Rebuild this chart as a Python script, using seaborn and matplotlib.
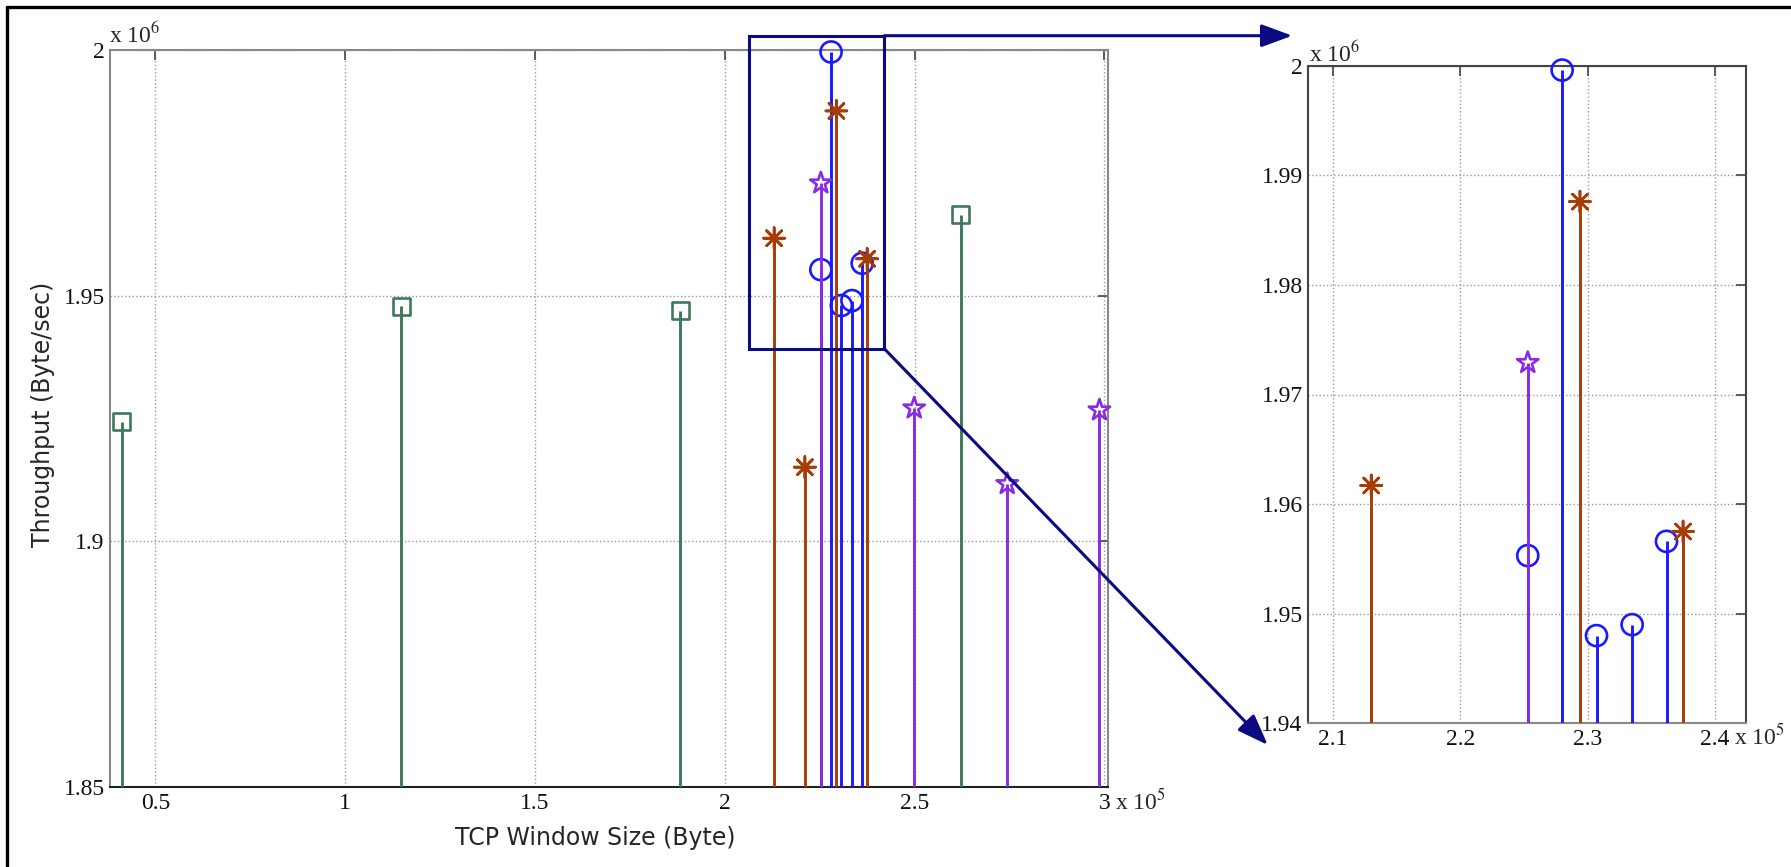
import matplotlib
matplotlib.use('Agg')
import matplotlib.pyplot as plt
from matplotlib.patches import Rectangle, FancyArrowPatch
from matplotlib.lines import Line2D
import seaborn as sns

W, H = 1791, 867

# TCP window size (Byte) and throughput (Byte/sec) per series
sq_x = [41100, 114800, 188300, 262200]
sq_y = [1924300, 1947800, 1946900, 1966500]

ci_x = [225300, 228000, 230700, 233500, 236200]
ci_y = [1955300, 1999600, 1948000, 1949000, 1956600]

ast_x = [213000, 221100, 229400, 237500]
ast_y = [1961700, 1915100, 1987600, 1957500]

st_x = [225300, 249900, 274400, 298700]
st_y = [1972900, 1927100, 1911700, 1926700]

main_xticks = [50000, 100000, 150000, 200000, 250000, 300000]
main_xlabels = ['0.5', '1', '1.5', '2', '2.5', '3']
main_yticks = [1850000, 1900000, 1950000, 2000000]
main_ylabels = ['1.85', '1.9', '1.95', '2']

zoom_xticks = [210000, 220000, 230000, 240000]
zoom_xlabels = ['2.1', '2.2', '2.3', '2.4']
zoom_yticks = [1940000, 1950000, 1960000, 1970000, 1980000, 1990000, 2000000]
zoom_ylabels = ['1.94', '1.95', '1.96', '1.97', '1.98', '1.99', '2']

GREEN = '#3b7a5a'
BLUE = '#1a1aff'
BROWN = '#a83c06'
PURPLE = '#8a2be2'
NAVY = '#0a0a82'

series = [
    (sq_x, sq_y, GREEN, 's', 150),
    (ci_x, ci_y, BLUE, 'o', 230),
    (ast_x, ast_y, BROWN, (8, 2, 0), 230),
    (st_x, st_y, PURPLE, '*', 260),
]

sns.set_style('white')
plt.rcParams['font.family'] = ['Liberation Serif', 'DejaVu Serif']
plt.rcParams['mathtext.fontset'] = 'stix'


def fx(px):
    return px / W


def fy(py):
    return 1 - py / H


def draw_stems(ax, xlim, ylim):
    for i, (xs, ys, color, marker, size) in enumerate(series):
        keep = [k for k in range(len(xs))
                if xlim[0] <= xs[k] <= xlim[1] and ys[k] >= ylim[0]]
        xs = [xs[k] for k in keep]
        ys = [ys[k] for k in keep]
        if not xs:
            continue
        ax.vlines(xs, 0, ys, colors=color, linewidth=2.1, zorder=3 + i)
        sns.scatterplot(x=xs, y=ys, ax=ax, marker=marker, s=size, color=color,
                        zorder=3.5 + i, clip_on=False, legend=False)
        coll = ax.collections[-1]
        coll.set_facecolor('none')
        coll.set_edgecolor(color)
        coll.set_linewidth(1.9)
    ax.set_xlim(*xlim)
    ax.set_ylim(*ylim)


def style_axes(ax, xticks, xlabels, yticks, ylabels, side_color, bottom_color):
    ax.set_xticks(xticks)
    ax.set_xticklabels(xlabels)
    ax.set_yticks(yticks)
    ax.set_yticklabels(ylabels)
    ax.grid(True, linestyle=':', color='#9a9a9a', linewidth=1.0)
    ax.set_axisbelow(True)
    ax.tick_params(direction='in', length=7, width=1.2, top=True, right=True,
                   labelsize=17, pad=4, color='#444444', labelcolor='#111111')
    for name in ['left', 'top', 'right']:
        ax.spines[name].set_color(side_color)
        ax.spines[name].set_linewidth(1.5)
    ax.spines['bottom'].set_color(bottom_color)
    ax.spines['bottom'].set_linewidth(1.5)
    ax.set_xlabel('')
    ax.set_ylabel('')


fig = plt.figure(figsize=(W / 100, H / 100), dpi=100)

# main axes
ax = fig.add_axes([fx(110.2), fy(787), fx(1108.2) - fx(110.2), fy(50) - fy(787)])
draw_stems(ax, (38100, 301000), (1850000, 2000000))
style_axes(ax, main_xticks, main_xlabels, main_yticks, main_ylabels, '#888888', '#222222')
ax.set_xlabel('TCP Window Size (Byte)', family='DejaVu Sans', fontsize=17)
ax.set_ylabel('Throughput (Byte/sec)', family='DejaVu Sans', fontsize=17)
ax.xaxis.set_label_coords((595.6 - 110.2) / 998, -(826 - 787) / 737)
ax.yaxis.set_label_coords(-(110.2 - 55) / 998, (787 - 414) / 737)

# zoomed axes
az = fig.add_axes([fx(1308.2), fy(723.3), fx(1746.2) - fx(1308.2), fy(65.7) - fy(723.3)])
draw_stems(az, (208050, 242460), (1940000, 2000000))
style_axes(az, zoom_xticks, zoom_xlabels, zoom_yticks, zoom_ylabels, '#444444', '#888888')

# exponent labels
fig.text(fx(109), fy(43), r'x 10$^{6}$', fontsize=17, ha='left', va='baseline')
fig.text(fx(1309), fy(62), r'x 10$^{6}$', fontsize=17, ha='left', va='baseline')
fig.text(fx(1114.7), fy(801.7), r'x 10$^{5}$', fontsize=17, ha='left', va='center')
fig.text(fx(1734), fy(736.7), r'x 10$^{5}$', fontsize=17, ha='left', va='center')

# zoom box and arrows
fig.patches.append(Rectangle((fx(749.2), fy(348.7)), fx(884.3) - fx(749.2), fy(35.7) - fy(348.7),
                             transform=fig.transFigure, fill=False, edgecolor=NAVY,
                             linewidth=2.2, zorder=10))
for start, end in [((884.3, 35.7), (1292.3, 35.7)), ((884.3, 348.7), (1267.8, 745))]:
    fig.patches.append(FancyArrowPatch((fx(start[0]), fy(start[1])), (fx(end[0]), fy(end[1])),
                                       transform=fig.transFigure, arrowstyle='-|>,head_length=0.95,head_width=0.35',
                                       mutation_scale=20, color=NAVY, linewidth=2.2,
                                       shrinkA=0, shrinkB=0, zorder=10))

# outer frame (left and top edges)
fig.add_artist(Line2D([fx(7.3), fx(7.3)], [fy(7.3), 0], transform=fig.transFigure,
                      color='black', linewidth=2.4))
fig.add_artist(Line2D([fx(7.3), 1], [fy(7.3), fy(7.3)], transform=fig.transFigure,
                      color='black', linewidth=2.4))

fig.savefig('out.png', dpi=100, facecolor='white')
